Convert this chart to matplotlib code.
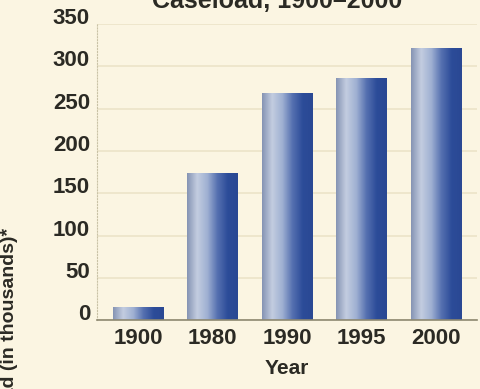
import matplotlib.pyplot as plt
import matplotlib.transforms as mtransforms
import numpy as np
from matplotlib.colors import LinearSegmentedColormap

# data
years = ['1900', '1980', '1990', '1995', '2000']
caseload = [15, 174, 268, 286, 322]
yticks = [0, 50, 100, 150, 200, 250, 300, 350]

bg = '#fbf5e2'
ink = '#2b2a24'
plt.rcParams['font.family'] = ['Liberation Sans', 'DejaVu Sans']

fig = plt.figure(figsize=(4.81, 3.89), dpi=100, facecolor=bg)
ax = fig.add_axes([97 / 481, 0.177, 380 / 481, 0.761], facecolor=bg)

# bar gradient: grey-blue edge -> light -> dark blue
cmap = LinearSegmentedColormap.from_list(
    'bar', ['#8593b3', '#c3cde0', '#9fb0d2', '#5570b0', '#2c4c99', '#2a4893'])
grad = np.linspace(0, 1, 256).reshape(1, -1)

x = np.arange(len(years))
width = 0.68
bars = ax.bar(x, caseload, width, color='none', zorder=2)
for b in bars:
    bx, by = b.get_x(), b.get_y()
    im = ax.imshow(grad, cmap=cmap, aspect='auto', zorder=2,
                   extent=[bx, bx + b.get_width(), by, by + b.get_height()])
    im.set_clip_path(b)

ax.set_xlim(-0.55, len(years) - 0.45)
ax.set_ylim(0, 350)
ax.set_yticks(yticks)
ax.set_yticklabels([])
ax.set_xticks(x)
ax.set_xticklabels(years)
ax.tick_params(length=0, labelsize=16, pad=6)
for lab in ax.get_xticklabels():
    lab.set_fontweight('bold')
    lab.set_color(ink)

# y tick labels sit a little above their gridlines in the reference
ytrans = mtransforms.offset_copy(ax.get_yaxis_transform(), fig=fig, x=-5, y=4, units='points')
for v in yticks:
    ax.text(0, v, str(v), transform=ytrans, ha='right', va='center',
            fontsize=16, fontweight='bold', color=ink)

ax.yaxis.grid(True, color='#ece3c8', linewidth=1.2, zorder=0)
ax.set_axisbelow(True)

for s in ['top', 'right']:
    ax.spines[s].set_visible(False)
ax.spines['left'].set_color('#c9c2a6')
ax.spines['left'].set_linestyle(':')
ax.spines['bottom'].set_color('#8d8870')
ax.spines['bottom'].set_linewidth(1.2)

ax.set_xlabel('Year', fontsize=15, fontweight='bold', color=ink, labelpad=7)

fig.text(277 / 481, 1 - 8 / 389, 'Caseload, 1900\u20132000', ha='center', va='baseline',
         fontsize=18, fontweight='bold', color=ink)
fig.text(10 / 481, 1 - 345 / 389, 'Caseload (in thousands)*', rotation=90,
         ha='center', va='center', fontsize=14, fontweight='bold', color=ink)

fig.savefig('out.png', dpi=100, facecolor=bg)
